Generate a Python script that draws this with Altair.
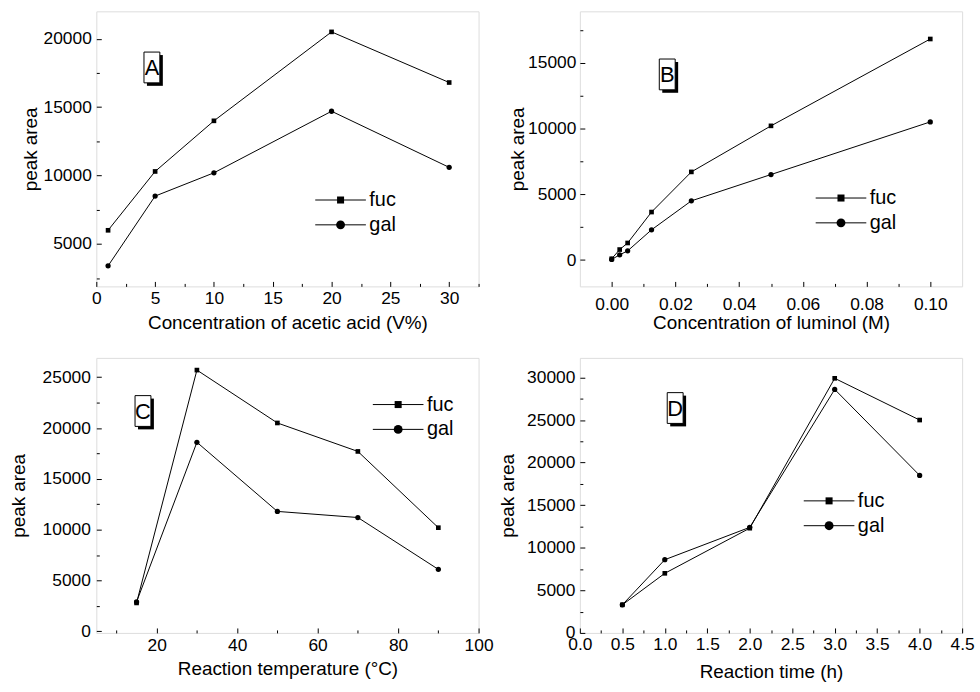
import altair as alt
import pandas as pd

# ---------------- data ----------------
series = ["fuc", "gal"]

a_x = [1, 5, 10, 20, 30]
a_fuc = [6000, 10300, 14000, 20500, 16800]
a_gal = [3400, 8500, 10200, 14700, 10600]

b_x = [0.0, 0.0025, 0.005, 0.0125, 0.025, 0.05, 0.1]
b_fuc = [100, 800, 1300, 3650, 6700, 10200, 16800]
b_gal = [50, 400, 700, 2300, 4500, 6500, 10500]

c_x = [15, 30, 50, 70, 90]
c_fuc = [2800, 25700, 20500, 17700, 10200]
c_gal = [2900, 18600, 11800, 11200, 6100]

d_x = [0.5, 1.0, 2.0, 3.0, 4.0]
d_fuc = [3300, 7000, 12300, 29900, 25000]
d_gal = [3300, 8600, 12400, 28600, 18500]

# tick values
a_xmaj = [0, 5, 10, 15, 20, 25, 30]
a_xmin = [2.5, 7.5, 12.5, 17.5, 22.5, 27.5, 32.5]
a_ymaj = [5000, 10000, 15000, 20000]
a_ymin = [2500, 7500, 12500, 17500]

b_xmaj = [0.0, 0.02, 0.04, 0.06, 0.08, 0.10]
b_xmin = [0.01, 0.03, 0.05, 0.07, 0.09]
b_ymaj = [0, 5000, 10000, 15000]
b_ymin = [2500, 7500, 12500, 17500]

c_xmaj = [20, 40, 60, 80, 100]
c_xmin = [10, 30, 50, 70, 90]
c_ymaj = [0, 5000, 10000, 15000, 20000, 25000]
c_ymin = [2500, 7500, 12500, 17500, 22500]

d_xmaj = [0.0, 0.5, 1.0, 1.5, 2.0, 2.5, 3.0, 3.5, 4.0, 4.5]
d_xmin = [0.25, 0.75, 1.25, 1.75, 2.25, 2.75, 3.25, 3.75, 4.25]
d_ymaj = [0, 5000, 10000, 15000, 20000, 25000, 30000]
d_ymin = [2500, 7500, 12500, 17500, 22500, 27500]

FONT = "Liberation Sans"
W, H = 385, 277
LABEL_FS = 17.5
TITLE_FS = 19


def panel(xv, fuc, gal, xdom, ydom, xmaj, xmin, ymaj, ymin, xfmt, xtitle,
          xlp, xtp, ylp, ytp, letter, box, leg):
    n = len(xv)
    df = pd.DataFrame({
        "x": list(xv) * 2,
        "y": list(fuc) + list(gal),
        "s": [series[0]] * n + [series[1]] * n,
    })
    base = alt.Chart(df)
    xs = alt.Scale(domain=xdom, nice=False, zero=False)
    ys = alt.Scale(domain=ydom, nice=False, zero=False)

    xmain = alt.Axis(orient="bottom", values=xmaj, format=xfmt, title=xtitle,
                     ticks=False, domain=False, grid=False, labelPadding=xlp,
                     titlePadding=xtp, labelFlush=False, labelOverlap=False,
                     labelFontSize=LABEL_FS, titleFontSize=TITLE_FS, labelColor="black",
                     titleColor="black", titleFontWeight="normal",
                     labelFont=FONT, titleFont=FONT)
    ymain = alt.Axis(orient="left", values=ymaj, format="d", title="peak area",
                     ticks=False, domain=False, grid=False, labelPadding=ylp,
                     titlePadding=ytp, labelOverlap=False,
                     labelFontSize=LABEL_FS, titleFontSize=TITLE_FS, labelColor="black",
                     titleColor="black", titleFontWeight="normal",
                     labelFont=FONT, titleFont=FONT)

    lines = base.mark_line(color="black", strokeWidth=1).encode(
        x=alt.X("x:Q", scale=xs, axis=xmain),
        y=alt.Y("y:Q", scale=ys, axis=ymain),
        detail="s:N",
    )

    def tick_layer(xvals, yvals, size):
        xa = alt.Axis(orient="bottom", values=xvals, labels=False, domain=False,
                      grid=False, ticks=True, tickSize=size, offset=-size,
                      tickColor="black", tickWidth=1, title=None)
        ya = alt.Axis(orient="left", values=yvals, labels=False, domain=False,
                      grid=False, ticks=True, tickSize=size, offset=-size,
                      tickColor="black", tickWidth=1, title=None)
        return base.mark_point(opacity=0).encode(
            x=alt.X("x:Q", scale=xs, axis=xa),
            y=alt.Y("y:Q", scale=ys, axis=ya),
        )

    sq = base.transform_filter(alt.datum.s == series[0]).mark_point(
        shape="square", filled=True, size=22, color="black", opacity=1
    ).encode(x=alt.X("x:Q", scale=xs, axis=None), y=alt.Y("y:Q", scale=ys, axis=None))
    ci = base.transform_filter(alt.datum.s == series[1]).mark_point(
        shape="circle", filled=True, size=28, color="black", opacity=1
    ).encode(x=alt.X("x:Q", scale=xs, axis=None), y=alt.Y("y:Q", scale=ys, axis=None))

    # legend (line + marker + label), placed in plot pixels
    cx, ry = leg
    legend_layers = []
    for i, (name, shp, sz) in enumerate([(series[0], "square", 50), (series[1], "circle", 80)]):
        yy = ry + i * 25
        one = alt.Chart(pd.DataFrame({"t": [name]}))
        legend_layers.append(one.mark_rule(color="black", strokeWidth=1).encode(
            x=alt.value(cx - 25.5), x2=alt.value(cx + 25.5), y=alt.value(yy)))
        legend_layers.append(one.mark_point(shape=shp, filled=True, size=sz, color="black",
                                            opacity=1).encode(
            x=alt.value(cx), y=alt.value(yy)))
        legend_layers.append(one.mark_text(fontSize=20, font=FONT, color="black",
                                           align="left", baseline="middle").encode(
            text="t:N", x=alt.value(cx + 29), y=alt.value(yy)))

    bx, by = box
    bw, bh, sh = 16, 31, 3
    one = alt.Chart(pd.DataFrame({"t": [letter]}))
    shadow = one.mark_rect(color="black").encode(
        x=alt.value(bx + sh), x2=alt.value(bx + bw + sh),
        y=alt.value(by + sh), y2=alt.value(by + bh + sh))
    boxr = one.mark_rect(fill="white", stroke="black", strokeWidth=1).encode(
        x=alt.value(bx), x2=alt.value(bx + bw), y=alt.value(by), y2=alt.value(by + bh))
    txt = one.mark_text(fontSize=22, font=FONT, color="black", align="center",
                        baseline="middle").encode(
        text="t:N", x=alt.value(bx + bw / 2), y=alt.value(by + bh / 2 + 1))

    return alt.layer(
        lines, tick_layer(xmaj, ymaj, 5), tick_layer(xmin, ymin, 3),
        sq, ci, *legend_layers, shadow, boxr, txt
    ).resolve_axis(x="independent", y="independent").properties(width=W, height=H)


pA = panel(a_x, a_fuc, a_gal, [0, 32.5], [1900, 22000], a_xmaj, a_xmin, a_ymaj, a_ymin,
           "d", "Concentration of acetic acid (V%)", 3, 7, 5, 3, "A", (48, 41), (246, 190))
pB = panel(b_x, b_fuc, b_gal, [-0.01, 0.11], [-2000, 18900], b_xmaj, b_xmin, b_ymaj, b_ymin,
           ".2f", "Concentration of luminol (M)", 9, 1, 4, 0, "B", (80, 48), (263, 188))
pC = panel(c_x, c_fuc, c_gal, [5, 100], [-150, 26900], c_xmaj, c_xmin, c_ymaj, c_ymin,
           "d", "Reaction temperature (°C)", 4, 5, 6, 14, "C", (39, 38), (304, 47))
pD = panel(d_x, d_fuc, d_gal, [0, 4.5], [0, 32300], d_xmaj, d_xmin, d_ymaj, d_ymin,
           ".1f", "Reaction time (h)", 3, 9, 5, 9, "D", (88, 35), (251, 144))

chart = alt.concat(pA, pB, pC, pD, columns=2, spacing={"row": 72, "column": 102},
                   bounds="flush").properties(
    padding={"left": 8, "top": 8, "right": 5, "bottom": 0},
    background="white",
).configure_view(stroke="black", strokeWidth=1).configure(font=FONT)

chart.save("out.html", embed_options={"renderer": "svg", "actions": False})
